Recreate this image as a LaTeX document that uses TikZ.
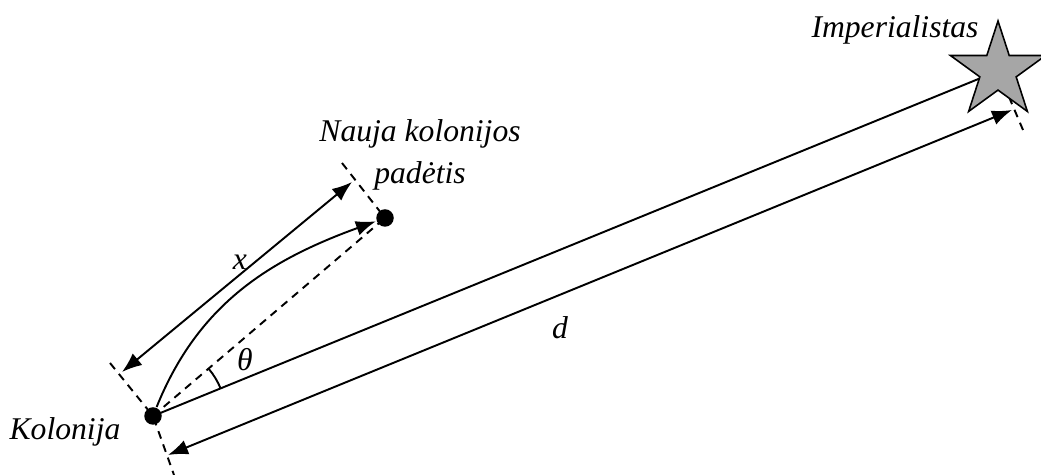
\documentclass[tikz,border=0pt]{standalone}
\usepackage{fontspec}
\setmainfont{Liberation Serif}
\usetikzlibrary{arrows.meta,shapes.geometric}

\begin{document}
\begin{tikzpicture}[x=0.02cm, y=0.02cm, line width=1.1pt,
    punktas/.style={circle, fill=black, inner sep=0pt, minimum size=0.35cm},
    pavad/.style={font=\fontsize{18}{24}\selectfont\itshape},
    matm/.style={{Latex[length=4mm,width=3mm]}-{Latex[length=4mm,width=3mm]}},
    bruks/.style={dash pattern=on 4.5pt off 3.5pt}]
  \useasboundingbox (0,0) rectangle (1041,475);
  \node[punktas] (kol) at (153,59) {};
  \node[punktas] (nauja) at (385,257) {};
  \coordinate (imp) at (998,404);
  % pagalbines linijos
  \coordinate (kolA) at (110,112);
  \coordinate (kolB) at (174,0);
  \coordinate (naujaA) at (342,312);
  \coordinate (impB) at (1023,345);
  \draw[bruks] (kolA) -- (kol.center) -- (kolB);
  \draw[bruks] (naujaA) -- (nauja.center);
  \draw[bruks] (imp) -- (impB);
  \draw[bruks] (kol.center) -- (nauja.center);
  \draw (kol.center) -- (imp);
  % matmenys
  \coordinate (xA) at (122,103);
  \coordinate (xB) at (352,293);
  \coordinate (dA) at (168,20);
  \coordinate (dB) at (1012,365);
  \draw[matm] (xA) -- (xB);
  \draw[matm] (dA) -- (dB);
  \draw[-{Latex[length=4mm,width=3mm]}] (kol) to[out=68, in=200] (nauja);
  \draw (kol.center) ++(22.2:73) arc[start angle=22.2, end angle=40.5, radius=73];
  \node[star, star points=5, star point ratio=2.618, minimum size=2cm, inner sep=0pt,
    draw, fill=gray!70, line width=0.9pt] (zvaigzde) at (imp) {};
  % uzrasai
  \node[pavad] (impt) at (895,445) {Imperialistas};
  \node[pavad, align=center] (naujat) at (420,320) {Nauja kolonijos\\padėtis};
  \node[pavad] (kolt) at (65,43) {Kolonija};
  \node[pavad] (xt) at (240,213) {x};
  \node[pavad] (tht) at (245,115) {θ};
  \node[pavad] (dt) at (560,147) {d};
\end{tikzpicture}
\end{document}
